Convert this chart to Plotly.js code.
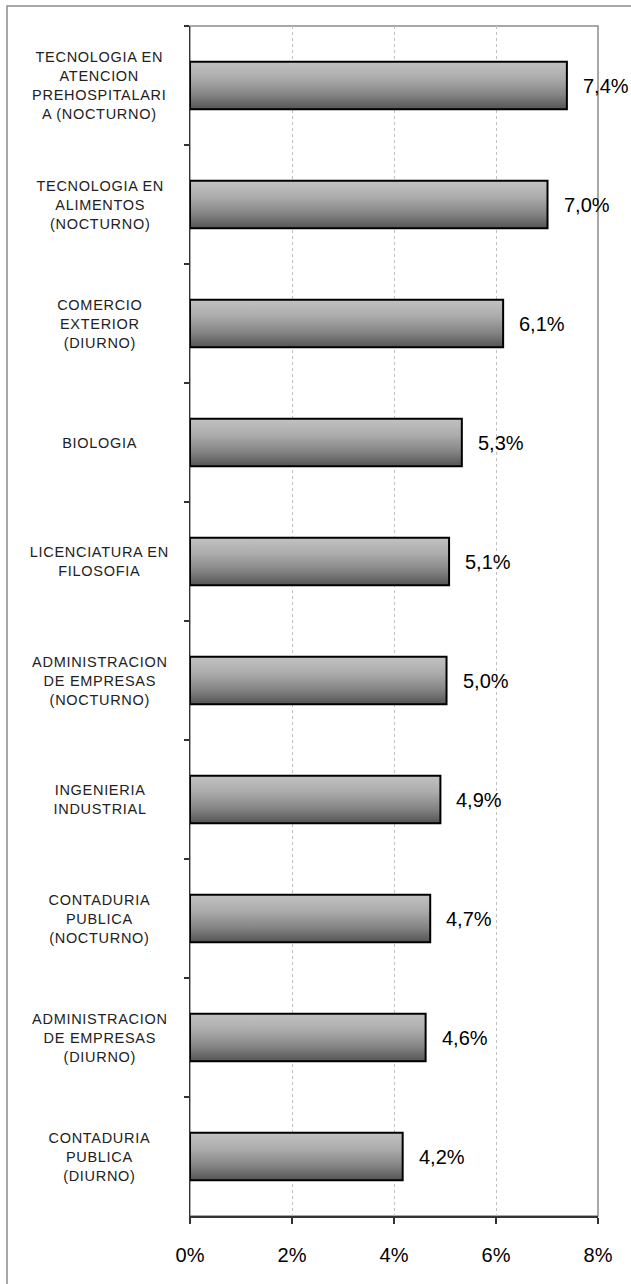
<!DOCTYPE html>
<html>
<head>
<meta charset="utf-8">
<script src="https://cdn.plot.ly/plotly-3.0.1.min.js"></script>
<style>
html,body{margin:0;padding:0;background:#fff;}
#chart{width:631px;height:1284px;}
</style>
</head>
<body>
<div id="chart"></div>
<script>
// Categories (top to bottom), with line breaks as in the reference
var categories = [
  "TECNOLOGIA EN<br>ATENCION<br>PREHOSPITALARI<br>A (NOCTURNO)",
  "TECNOLOGIA EN<br>ALIMENTOS<br>(NOCTURNO)",
  "COMERCIO<br>EXTERIOR<br>(DIURNO)",
  "BIOLOGIA",
  "LICENCIATURA EN<br>FILOSOFIA",
  "ADMINISTRACION<br>DE EMPRESAS<br>(NOCTURNO)",
  "INGENIERIA<br>INDUSTRIAL",
  "CONTADURIA<br>PUBLICA<br>(NOCTURNO)",
  "ADMINISTRACION<br>DE EMPRESAS<br>(DIURNO)",
  "CONTADURIA<br>PUBLICA<br>(DIURNO)"
];
// Values in percent
var values = [7.39, 7.01, 6.14, 5.33, 5.08, 5.03, 4.91, 4.71, 4.62, 4.17];
// Printed value labels
var valueLabels = ["7,4%", "7,0%", "6,1%", "5,3%", "5,1%", "5,0%", "4,9%", "4,7%", "4,6%", "4,2%"];
// X tick values and labels
var xTickVals = [0, 2, 4, 6, 8];
var xTickText = ["0%", "2%", "4%", "6%", "8%"];

var FONT = "Liberation Sans, Arial, sans-serif";

var trace = {
  type: "bar",
  orientation: "h",
  x: values,
  y: categories,
  marker: { color: "#9a9a9a", line: { color: "#000000", width: 2 } },
  hoverinfo: "none"
};

var annotations = [];
categories.forEach(function (c, i) {
  annotations.push({
    xref: "paper", yref: "y", x: -0.2206, y: c,
    xanchor: "center", yanchor: "middle",
    text: c, showarrow: false, align: "center",
    font: { family: FONT, size: 14.5, color: "#222222" }
  });
  annotations.push({
    xref: "x", yref: "y", x: values[i], y: c,
    xanchor: "left", yanchor: "middle", xshift: 14,
    text: valueLabels[i], showarrow: false,
    font: { family: FONT, size: 20, color: "#000000" }
  });
});

var layout = {
  width: 631, height: 1284,
  margin: { l: 190, r: 33, t: 26, b: 68, pad: 0 },
  paper_bgcolor: "#ffffff", plot_bgcolor: "#ffffff",
  showlegend: false,
  bargap: 0.6,
  font: { family: FONT, color: "#000000" },
  xaxis: {
    range: [0, 8], tickvals: xTickVals, ticktext: xTickText,
    showgrid: true, gridcolor: "#c0c0c0", griddash: "dot", gridwidth: 1,
    zeroline: false,
    showline: true, linecolor: "#333333", linewidth: 1.5,
    ticks: "outside", ticklen: 6, tickcolor: "#333333", tickwidth: 1.5,
    ticklabelstandoff: 14,
    tickfont: { family: FONT, size: 20, color: "#000000" },
    fixedrange: true
  },
  yaxis: {
    type: "category", autorange: "reversed",
    showticklabels: false,
    showgrid: false, zeroline: false,
    showline: true, linecolor: "#333333", linewidth: 1.5,
    ticks: "outside", tickson: "boundaries", ticklen: 5, tickcolor: "#333333", tickwidth: 1.5,
    fixedrange: true
  },
  shapes: [
    { type: "rect", xref: "paper", yref: "paper", x0: 0, x1: 1, y0: 0, y1: 1,
      line: { color: "#8c8c8c", width: 1.5 }, layer: "below" },
    { type: "rect", xref: "paper", yref: "paper", x0: -0.4485, x1: 1.2, y0: -0.07, y1: 1.0168,
      line: { color: "#8c8c8c", width: 1.5 }, layer: "below" }
  ],
  annotations: annotations
};

Plotly.newPlot("chart", [trace], layout, { staticPlot: true, displayModeBar: false }).then(function (gd) {
  var svgNS = "http://www.w3.org/2000/svg";
  var svg = gd.querySelector("svg.main-svg");
  var defs = svg.querySelector("defs");
  if (!defs) { defs = document.createElementNS(svgNS, "defs"); svg.insertBefore(defs, svg.firstChild); }
  var g = document.createElementNS(svgNS, "linearGradient");
  g.setAttribute("id", "barGrad");
  g.setAttribute("x1", "0"); g.setAttribute("y1", "0");
  g.setAttribute("x2", "0"); g.setAttribute("y2", "1");
  [["0%", "#c2c2c2"], ["35%", "#ababab"], ["70%", "#838383"], ["100%", "#545454"]].forEach(function (s) {
    var st = document.createElementNS(svgNS, "stop");
    st.setAttribute("offset", s[0]); st.setAttribute("stop-color", s[1]);
    g.appendChild(st);
  });
  defs.appendChild(g);
  gd.querySelectorAll(".barlayer .point path").forEach(function (p) {
    p.style.fill = "url(#barGrad)";
  });
  // slightly spaced category labels, as in the reference
  gd.querySelectorAll("g.annotation").forEach(function (a) {
    var idx = +a.getAttribute("data-index");
    if (idx % 2 === 0) {
      var t = a.querySelector("text.annotation-text");
      if (t) t.style.letterSpacing = "0.7px";
    }
  });
});
</script>
</body>
</html>
